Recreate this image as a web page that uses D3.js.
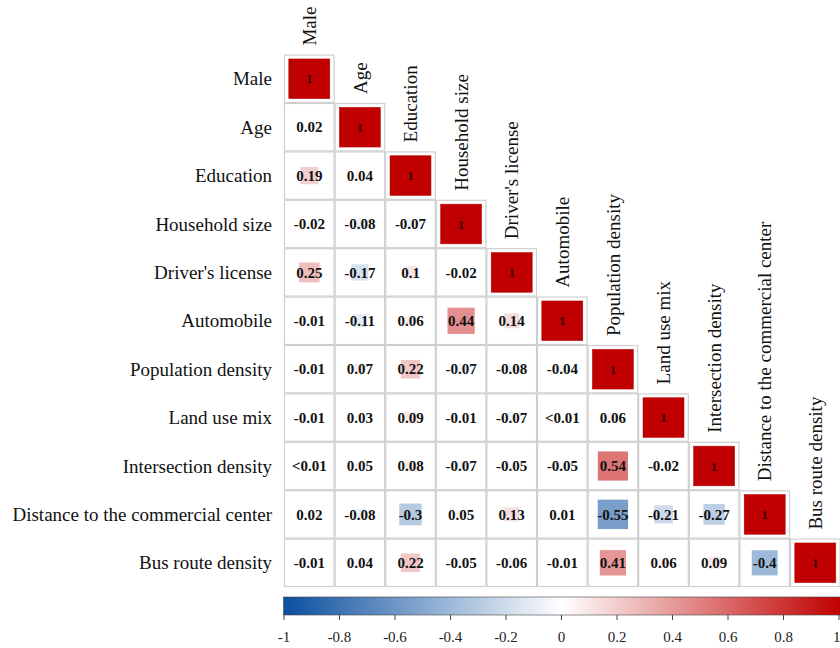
<!DOCTYPE html>
<html>
<head>
<meta charset="utf-8">
<script src="https://cdn.jsdelivr.net/npm/d3@7"></script>
<style>
  html, body { margin: 0; padding: 0; background: #fff; }
  svg { display: block; }
</style>
</head>
<body>
<svg id="chart" width="840" height="648"></svg>
<script>
// Variables of the correlation matrix (row and column order)
const variables = [
  "Male", "Age", "Education", "Household size", "Driver's license",
  "Automobile", "Population density", "Land use mix", "Intersection density",
  "Distance to the commercial center", "Bus route density"
];

// Lower-triangle coefficients, one array per row (columns 0..row-1); diagonal is 1.
// A value of 0.005 stands for a coefficient reported as "<0.01".
const rowMale         = [];
const rowAge          = [0.02];
const rowEducation    = [0.19, 0.04];
const rowHousehold    = [-0.02, -0.08, -0.07];
const rowLicense      = [0.25, -0.17, 0.1, -0.02];
const rowAutomobile   = [-0.01, -0.11, 0.06, 0.44, 0.14];
const rowPopulation   = [-0.01, 0.07, 0.22, -0.07, -0.08, -0.04];
const rowLandUse      = [-0.01, 0.03, 0.09, -0.01, -0.07, 0.005, 0.06];
const rowIntersection = [0.005, 0.05, 0.08, -0.07, -0.05, -0.05, 0.54, -0.02];
const rowDistance     = [0.02, -0.08, -0.3, 0.05, 0.13, 0.01, -0.55, -0.21, -0.27];
const rowBus          = [-0.01, 0.04, 0.22, -0.05, -0.06, -0.01, 0.41, 0.06, 0.09, -0.4];

const lowerRows = [rowMale, rowAge, rowEducation, rowHousehold, rowLicense,
  rowAutomobile, rowPopulation, rowLandUse, rowIntersection, rowDistance, rowBus];

// Colour legend ticks
const legendTicks = [-1, -0.8, -0.6, -0.4, -0.2, 0, 0.2, 0.4, 0.6, 0.8, 1];

// Build the cell list (lower triangle including diagonal)
const cells = [];
lowerRows.forEach((vals, i) => {
  vals.forEach((v, j) => cells.push({ row: variables[i], col: variables[j], value: v, diag: false }));
  cells.push({ row: variables[i], col: variables[i], value: 1, diag: true });
});

const svg = d3.select("#chart");
const serif = "'Liberation Serif', 'Times New Roman', Times, serif";

const x = d3.scaleBand().domain(variables).range([284, 840.6]).padding(0);
const y = d3.scaleBand().domain(variables).range([54.6, 587]).padding(0);
const color = d3.scaleLinear().domain([-1, 0, 1]).range(["#0b4f9f", "#ffffff", "#c00000"]);

const cw = x.bandwidth(), ch = y.bandwidth();

// Cell grid
const g = svg.append("g");
g.selectAll("rect.cell").data(cells).join("rect")
  .attr("class", "cell")
  .attr("x", d => x(d.col) + 0.5)
  .attr("y", d => y(d.row) + 0.5)
  .attr("width", cw - 1)
  .attr("height", ch - 1)
  .attr("fill", "#fff")
  .attr("stroke", "#cfcfcf")
  .attr("stroke-width", 1.2);

// Squares with area proportional to |r|
g.selectAll("rect.sq").data(cells).join("rect")
  .attr("class", "sq")
  .each(function (d) {
    const s = Math.sqrt(Math.abs(d.value));
    const w = s * 0.81 * cw, h = s * 0.82 * ch;
    d3.select(this)
      .attr("x", x(d.col) + (cw - w) / 2)
      .attr("y", y(d.row) + (ch - h) / 2)
      .attr("width", w)
      .attr("height", h)
      .attr("fill", color(d.value))
      .attr("stroke", d.diag ? "#b00000" : "none")
      .attr("stroke-width", 0.5);
  });

// Coefficient labels
const fmt = v => (Math.abs(v) < 0.01 && v !== 0 ? "<0.01" : String(v));
g.selectAll("text.val").data(cells).join("text")
  .attr("class", "val")
  .attr("x", d => x(d.col) + cw / 2)
  .attr("y", d => y(d.row) + ch / 2)
  .attr("dy", "0.35em")
  .attr("text-anchor", "middle")
  .attr("font-family", serif)
  .attr("font-weight", "bold")
  .attr("font-size", d => d.diag ? 13 : 15)
  .attr("fill", d => d.diag ? "#3a0505" : "#111")
  .text(d => fmt(d.value));

// Row labels
svg.append("g").selectAll("text").data(variables).join("text")
  .attr("x", 272)
  .attr("y", d => y(d) + ch / 2)
  .attr("dy", "0.35em")
  .attr("text-anchor", "end")
  .attr("font-family", serif)
  .attr("font-size", 19)
  .attr("fill", "#111")
  .text(d => d);

// Column labels, vertical, just above each diagonal cell
svg.append("g").selectAll("text").data(variables).join("text")
  .attr("transform", d => `translate(${x(d) + cw / 2},${y(d) - 9}) rotate(-90)`)
  .attr("dy", "0.35em")
  .attr("text-anchor", "start")
  .attr("font-family", serif)
  .attr("font-size", 19)
  .attr("fill", "#111")
  .text(d => d);

// Colour legend
const lx = d3.scaleLinear().domain([-1, 1]).range([283.5, 838.5]);
const defs = svg.append("defs");
const grad = defs.append("linearGradient").attr("id", "corrGrad")
  .attr("x1", "0%").attr("x2", "100%").attr("y1", "0%").attr("y2", "0%");
d3.range(-1, 1.0001, 0.1).forEach(v => {
  grad.append("stop").attr("offset", ((v + 1) / 2 * 100) + "%").attr("stop-color", color(v));
});
const legendTop = 597, legendH = 18;
svg.append("rect")
  .attr("x", lx(-1)).attr("y", legendTop)
  .attr("width", lx(1) - lx(-1) + 2).attr("height", legendH)
  .attr("fill", "url(#corrGrad)")
  .attr("stroke", "#444").attr("stroke-width", 0.6);

const axis = d3.axisBottom(lx).tickValues(legendTicks).tickSize(5).tickFormat(d => String(d));
const ag = svg.append("g").attr("transform", `translate(0,${legendTop + legendH})`).call(axis);
ag.select(".domain").remove();
ag.selectAll(".tick line").attr("stroke", "#444");
ag.selectAll(".tick text")
  .attr("font-family", serif)
  .attr("font-size", 15)
  .attr("fill", "#222")
  .attr("y", 16)
  // keep the last label inside the canvas
  .attr("text-anchor", d => d === 1 ? "end" : "middle")
  .attr("dx", d => d === 1 ? 1.5 : 0);
</script>
</body>
</html>
